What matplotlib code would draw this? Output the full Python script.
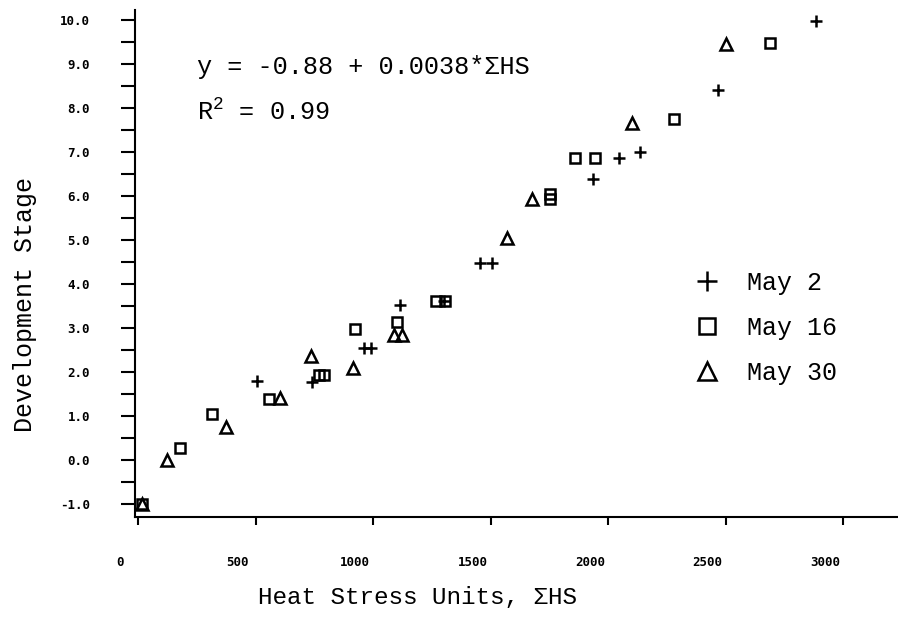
import matplotlib
matplotlib.use("Agg")
import matplotlib.pyplot as plt
from matplotlib.transforms import ScaledTranslation

## data (heat stress units, development stage)
may2_x = [505, 739, 960, 990, 1114, 1300, 1457, 1507, 1935, 2045, 2134, 2468, 2883]
may2_y = [1.79, 1.77, 2.54, 2.54, 3.53, 3.62, 4.48, 4.48, 6.38, 6.86, 7.01, 8.42, 9.98]

may16_x = [15, 180, 315, 557, 770, 790, 925, 1102, 1270, 1305, 1752, 1752, 1860, 1943, 2282, 2690]
may16_y = [-1.0, 0.28, 1.05, 1.38, 1.94, 1.94, 2.97, 3.13, 3.62, 3.62, 6.05, 5.93, 6.86, 6.87, 7.76, 9.49]

may30_x = [15, 125, 375, 603, 737, 915, 1089, 1125, 1568, 1677, 2102, 2501]
may30_y = [-1.0, 0.0, 0.74, 1.40, 2.36, 2.10, 2.84, 2.84, 5.05, 5.94, 7.66, 9.45]

x_ticks = [0, 500, 1000, 1500, 2000, 2500, 3000]
y_ticks = [-1, 0, 1, 2, 3, 4, 5, 6, 7, 8, 9, 10]

typewriter = "Liberation Mono"
plt.rcParams["mathtext.fontset"] = "custom"
plt.rcParams["mathtext.rm"] = typewriter

fig = plt.figure(figsize=(8.98, 6.29), dpi=100)
ax = fig.add_axes([0.1498, 0.178, 0.8502, 0.806])

mk = dict(linestyle="none", color="black", markerfacecolor="none", markeredgewidth=1.8)
ax.plot(may2_x, may2_y, marker="+", markersize=9, label="May 2", **mk)
ax.plot(may16_x, may16_y, marker="s", markersize=7.5, label="May 16", **mk)
ax.plot(may30_x, may30_y, marker="^", markersize=8, label="May 30", **mk)

ax.set_xlim(-15, 3234)
ax.set_ylim(-1.3, 10.23)

## only left and bottom axis lines, like the typed original
ax.spines["top"].set_visible(False)
ax.spines["right"].set_visible(False)
ax.spines["left"].set_linewidth(1.5)
ax.spines["bottom"].set_linewidth(1.5)

ax.set_xticks(x_ticks)
ax.set_xticklabels([str(v) for v in x_ticks])
ax.set_yticks(y_ticks)
ax.set_yticklabels(["%.1f" % v for v in y_ticks])
ax.set_yticks([v + 0.5 for v in y_ticks[:-1]], minor=True)

ax.tick_params(axis="y", which="both", direction="out", length=10, width=1.5, pad=22)
ax.tick_params(axis="x", which="major", direction="out", length=6, width=1.5, pad=22)
for lab in ax.get_xticklabels() + ax.get_yticklabels():
    lab.set_fontfamily("DejaVu Sans Mono")
    lab.set_fontweight("bold")
    lab.set_fontsize(9)
# x labels sit a little to the left of their ticks in the original
shift = ScaledTranslation(-0.18, 0, fig.dpi_scale_trans)
for lab in ax.get_xticklabels():
    lab.set_transform(lab.get_transform() + shift)

fig.text(25 / 898, 1 - 304 / 629, "Development Stage", rotation=90,
         ha="center", va="center", fontsize=18, family=typewriter)
fig.text(418 / 898, 1 - 597 / 629, "Heat Stress Units, \u03a3HS",
         ha="center", va="center", fontsize=17.5, family=typewriter)

ax.text(0.082, 0.888, "y = -0.88 + 0.0038*\u03a3HS", transform=ax.transAxes,
        ha="left", va="center", fontsize=18.2, family=typewriter)
ax.text(0.082, 0.799, r"R$^2$ = 0.99", transform=ax.transAxes,
        ha="left", va="center", fontsize=18.2, family=typewriter)

ax.legend(loc="upper left", bbox_to_anchor=(692 / 898, 1 - 271 / 629),
          bbox_transform=fig.transFigure, frameon=False, borderpad=0,
          borderaxespad=0, handlelength=1.2, handletextpad=1.0,
          labelspacing=0.84, markerscale=1.6,
          prop={"family": typewriter, "size": 18})

fig.savefig("out.png", dpi=100)
